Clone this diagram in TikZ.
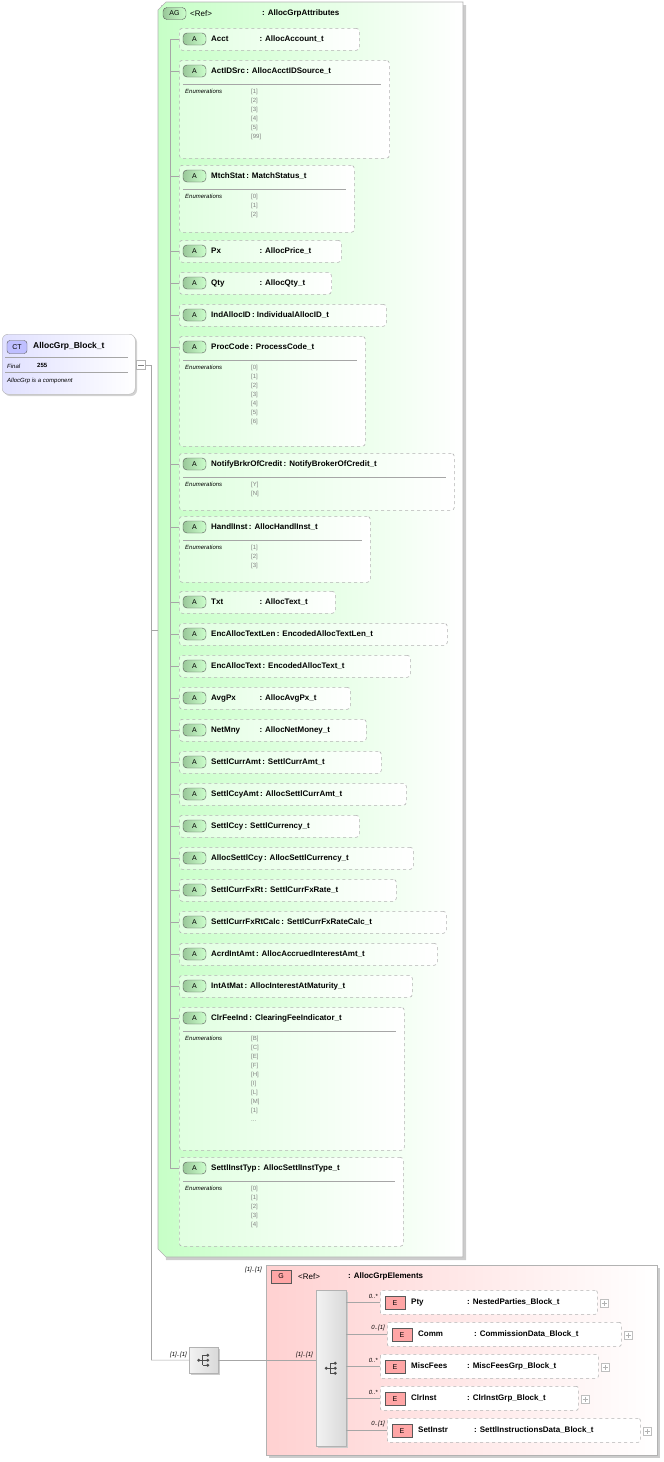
\documentclass[tikz,border=0pt]{standalone}
\usepackage{fontspec}
\setmainfont{Liberation Sans}
\begin{document}
\begin{tikzpicture}[x=1pt,y=-1pt,
  bx/.style={draw=gray!60,dashed,line width=0.6pt,left color=green!12,right color=white,rounded corners=3pt},
  ebx/.style={draw=gray!60,dashed,line width=0.6pt,fill=white,rounded corners=2pt},
  badge/.style={draw=gray!70!black,rounded corners=4pt,left color=green!45!black!40,right color=green!20,inner sep=0pt,minimum width=23pt,minimum height=12pt,font=\fontsize{7}{8}\selectfont},
  rbadge/.style={draw=gray!70!black,fill=red!35,inner sep=0pt,minimum width=20pt,minimum height=13pt,font=\fontsize{7}{8}\selectfont},
  nm/.style={anchor=west,inner sep=0pt,font=\fontsize{8}{9}\bfseries\selectfont},
  lab/.style={inner sep=0pt,font=\fontsize{6}{7}\itshape\selectfont},
  enumv/.style={anchor=north west,inner sep=0pt,align=left,text=gray,font=\fontsize{6}{9}\selectfont},
  ln/.style={draw=gray!70,line width=0.5pt}]
\useasboundingbox (0,0) rectangle (664,1462);
% AG group
\fill[gray!40] (161,5) -- (466,5) -- (466,1260) -- (166,1260) -- cycle;
\path[draw=gray!60,left color=green!22,right color=white,line width=0.6pt] (166,2) -- (463,2) -- (463,1257) -- (166,1257) -- (158,1249) -- (158,10) -- cycle;
\node[badge] (agb) at (174.5,13.5) {AG};
\node[nm,font=\fontsize{8}{9}\selectfont] (agr) at (190,13.5) {<Ref>};
\node[nm] (agt) at (262,13.5) {: AllocGrpAttributes};
\coordinate (trT) at (170,39);
\coordinate (trB) at (170,1168);
\draw[ln] (trT) -- (trB);
\newcommand\nmw[1]{\makebox[47pt][l]{#1}}
\newcommand\attr[6]{%
  \node[bx,anchor=north west,minimum width={#4-179},minimum height=#3,inner sep=0pt] (#1) at (179,#2) {};
  \node[badge] (#1b) at (194.5,#2+11) {A};
  \node[nm] (#1t) at (211,#2+11) {#5\,: #6};
  \draw[ln] (trT|-#1b) -- (#1.west|-#1b);
}
\newcommand\attrE[7]{%
  \attr{#1}{#2}{#3}{#4}{#5}{#6}
  \draw[gray!70,line width=0.5pt] (183,#2+24) -- (#4-8,#2+24);
  \node[lab,anchor=north west] (#1e) at (185,#2+29) {Enumerations};
  \node[enumv] (#1v) at (251,#2+28.5) {#7};
}
\attr{a1}{28}{22}{359}{\nmw{Acct}}{AllocAccount\_t}
\attrE{a2}{60}{98}{389}{ActIDSrc}{AllocAcctIDSource\_t}{[1]\\{}[2]\\{}[3]\\{}[4]\\{}[5]\\{}[99]}
\attrE{a3}{165}{67}{354}{MtchStat}{MatchStatus\_t}{[0]\\{}[1]\\{}[2]}
\attr{a4}{240}{22}{341}{\nmw{Px}}{AllocPrice\_t}
\attr{a5}{272}{22}{331}{\nmw{Qty}}{AllocQty\_t}
\attr{a6}{304}{22}{386}{IndAllocID}{IndividualAllocID\_t}
\attrE{a7}{336}{110}{365}{ProcCode}{ProcessCode\_t}{[0]\\{}[1]\\{}[2]\\{}[3]\\{}[4]\\{}[5]\\{}[6]}
\attrE{a8}{453}{57}{454}{NotifyBrkrOfCredit}{NotifyBrokerOfCredit\_t}{[Y]\\{}[N]}
\attrE{a9}{516}{66}{370}{HandlInst}{AllocHandlInst\_t}{[1]\\{}[2]\\{}[3]}
\attr{a10}{591}{22}{335}{\nmw{Txt}}{AllocText\_t}
\attr{a11}{623}{22}{447}{EncAllocTextLen}{EncodedAllocTextLen\_t}
\attr{a12}{655}{22}{410}{EncAllocText}{EncodedAllocText\_t}
\attr{a13}{687}{22}{350}{\nmw{AvgPx}}{AllocAvgPx\_t}
\attr{a14}{719}{22}{366}{\nmw{NetMny}}{AllocNetMoney\_t}
\attr{a15}{751}{22}{381}{SettlCurrAmt}{SettlCurrAmt\_t}
\attr{a16}{783}{22}{406}{SettlCcyAmt}{AllocSettlCurrAmt\_t}
\attr{a17}{815}{22}{359}{SettlCcy}{SettlCurrency\_t}
\attr{a18}{847}{22}{413}{AllocSettlCcy}{AllocSettlCurrency\_t}
\attr{a19}{879}{22}{396}{SettlCurrFxRt}{SettlCurrFxRate\_t}
\attr{a20}{911}{22}{446}{SettlCurrFxRtCalc}{SettlCurrFxRateCalc\_t}
\attr{a21}{943}{22}{437}{AcrdIntAmt}{AllocAccruedInterestAmt\_t}
\attr{a22}{975}{22}{412}{IntAtMat}{AllocInterestAtMaturity\_t}
\attrE{a23}{1007}{143}{404}{ClrFeeInd}{ClearingFeeIndicator\_t}{[B]\\{}[C]\\{}[E]\\{}[F]\\{}[H]\\{}[I]\\{}[L]\\{}[M]\\{}[1]\\{}...}
\attrE{a24}{1157}{89}{403}{SettlInstTyp}{AllocSettlInstType\_t}{[0]\\{}[1]\\{}[2]\\{}[3]\\{}[4]}
% CT box
\fill[gray!35,rounded corners=6pt] (4,336) rectangle (137,396);
\node[draw=gray!60,rounded corners=6pt,left color=blue!12,right color=white,anchor=north west,minimum width=133pt,minimum height=60pt,inner sep=0pt] (ct) at (2,334) {};
\node[draw=gray!70!black,rounded corners=3pt,fill=blue!25,inner sep=0pt,minimum width=20pt,minimum height=13pt,font=\fontsize{7}{8}\selectfont] (ctb) at (17,347) {CT};
\node[nm,font=\fontsize{8.5}{9}\bfseries\selectfont] (ctn) at (33,346) {AllocGrp\_Block\_t};
\draw[gray!70] (5,357) -- (128,357);
\node[lab,anchor=west] (ctf) at (7,366) {Final};
\node[nm,font=\fontsize{6}{7}\bfseries\selectfont] (ctv) at (37,365.5) {255};
\draw[gray!70] (5,372) -- (128,372);
\node[lab,anchor=west] (ctc) at (7,381) {AllocGrp is a component};
\node[draw=gray!60,fill=white,minimum size=9pt,inner sep=0pt] (ctm) at (141,365) {};
\draw[gray] (138,365) -- (144,365);
\coordinate (j1) at (151,365);
\coordinate (j2) at (151,1360);
\draw[ln] (ctm.east) -- (j1) -- (j2);
\draw[ln] (151,630) -- (158,630);
% sequence box
\newcommand\seqicon[1]{%
  \fill[black!70] ([xshift=-5pt]#1) circle (1.6pt);
  \draw[black!70,line width=0.6pt] ([xshift=-5pt]#1) -- ([xshift=-1pt]#1);
  \draw[black!70,line width=0.6pt] ([xshift=-1pt,yshift=5pt]#1) -- ([xshift=-1pt,yshift=-5pt]#1);
  \foreach \dy in {5,0,-5}{\draw[black!70,line width=0.6pt] ([xshift=-1pt,yshift=\dy pt]#1) -- ([xshift=3pt,yshift=\dy pt]#1);
  \fill[black!70] ([xshift=4pt,yshift=\dy pt]#1) circle (1.6pt);}
}
\fill[gray!40] (191,1349) rectangle (220,1375);
\node[draw=gray!60,left color=gray!10,right color=gray!30,anchor=north west,minimum width=29pt,minimum height=26pt,inner sep=0pt] (sq) at (189,1347) {};
\seqicon{sq.center}
\draw[ln] (j2) -- (sq.west);
\node[lab,anchor=south east] (l1) at (187,1358) {[1]..[1]};
% G group
\fill[gray!40] (269,1268) rectangle (660,1458);
\node[draw=gray!60,left color=red!18,right color=white,anchor=north west,minimum width=391pt,minimum height=190pt,inner sep=0pt] (gg) at (266,1265) {};
\node[lab,anchor=south east] (l2) at (262,1273) {[1]..[1]};
\node[rbadge] (gb) at (281,1276.5) {G};
\node[nm,font=\fontsize{8}{9}\selectfont] (gr) at (298,1276.5) {<Ref>};
\node[nm] (gt) at (348,1276.5) {: AllocGrpElements};
\fill[gray!40] (318,1292) rectangle (348,1448);
\node[draw=gray!60,left color=gray!10,right color=gray!30,anchor=north west,minimum width=30pt,minimum height=156pt,inner sep=0pt] (sb) at (316,1290) {};
\seqicon{sb.center}
\draw[ln] (sq.east) -- (sb.west|-sq.east);
\node[lab,anchor=south east] (l3) at (313,1358) {[1]..[1]};
\newcommand\elem[7]{%
  \node[ebx,anchor=north west,minimum width={#4-#3},minimum height=24pt,inner sep=0pt] (#1) at (#3,#2-12) {};
  \node[rbadge] (#1b) at (#3+15,#2+1) {E};
  \node[nm] (#1t) at (#3+31,#2) {\makebox[56pt][l]{#5}: #6};
  \node[draw=gray!50,fill=white,minimum size=8pt,inner sep=0pt] (#1p) at (#4+7,#2+1) {};
  \draw[gray!60] (#4+4.5,#2+1) -- (#4+9.5,#2+1) (#4+7,#2-1.5) -- (#4+7,#2+3.5);
  \draw[ln] (sb.east|-#1.west) -- (#1.west);
  \node[lab,anchor=south east] (#1m) at (#3-2,#2-3) {#7};
}
\elem{e1}{1302}{380}{597}{Pty}{NestedParties\_Block\_t}{0..*}
\elem{e2}{1334}{387}{621}{Comm}{CommissionData\_Block\_t}{0..[1]}
\elem{e3}{1366}{380}{598}{MiscFees}{MiscFeesGrp\_Block\_t}{0..*}
\elem{e4}{1398}{380}{578}{ClrInst}{ClrInstGrp\_Block\_t}{0..*}
\elem{e5}{1430}{387}{640}{SetInstr}{SettlInstructionsData\_Block\_t}{0..[1]}
\end{tikzpicture}
\end{document}
